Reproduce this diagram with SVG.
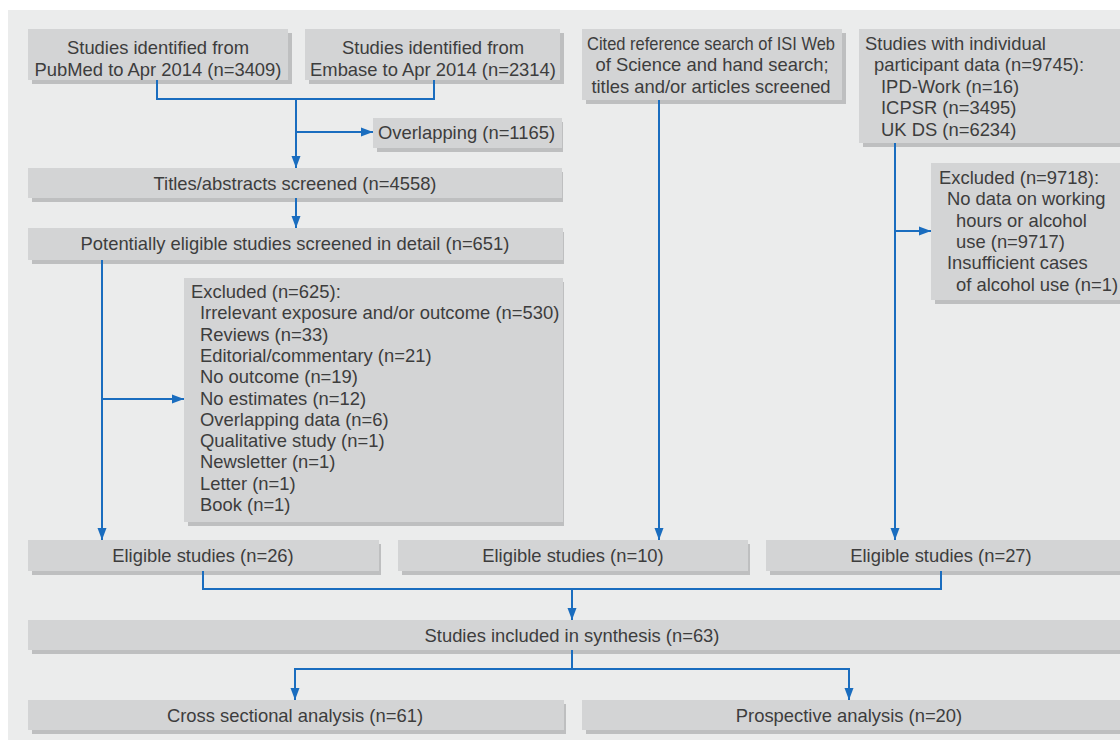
<svg xmlns="http://www.w3.org/2000/svg" width="1120" height="742" viewBox="0 0 1120 742">
<defs>
<style>
.sh{fill:#bebfc0}
.bx{fill:#d3d4d5}
text{font-family:"Liberation Sans",Arial,sans-serif;font-size:18.4px;fill:#3d3d3d}
.c{text-anchor:middle}
.ln{fill:none;stroke:#1a6dbf;stroke-width:2}
</style>
<marker id="ah" markerUnits="userSpaceOnUse" markerWidth="13" markerHeight="10" refX="12" refY="5" orient="auto">
<path d="M0,0.5 L12,5 L0,9.5 Z" fill="#1a6dbf"/>
</marker>
</defs>
<rect width="1120" height="742" fill="#ffffff"/>
<rect x="8" y="10" width="1112" height="730" fill="#ebecec"/>

<g id="pubmed"><rect class="sh" x="32" y="33" width="260" height="51"/><rect class="bx" x="28" y="29" width="260" height="51"/>
<text class="c" x="158" y="53.5">Studies identified from</text><text class="c" x="158" y="75.5">PubMed to Apr 2014 (n=3409)</text></g>

<g id="embase"><rect class="sh" x="309" y="33" width="255" height="51"/><rect class="bx" x="305" y="29" width="255" height="51"/>
<text class="c" x="433" y="53.5">Studies identified from</text><text class="c" x="433" y="75.5">Embase to Apr 2014 (n=2314)</text></g>

<g id="cited"><rect class="sh" x="586" y="33" width="260" height="71"/><rect class="bx" x="582" y="29" width="260" height="71"/>
<text class="c" x="711" y="49.5" textLength="248" lengthAdjust="spacingAndGlyphs">Cited reference search of ISI Web</text><text class="c" x="712" y="70.5">of Science and hand search;</text><text class="c" x="711" y="92.5">titles and/or articles screened</text></g>

<g id="ipd"><rect class="sh" x="863" y="33" width="261" height="114"/><rect class="bx" x="859" y="29" width="261" height="114"/>
<text x="865" y="49.5">Studies with individual</text><text x="874" y="70.5">participant data (n=9745):</text><text x="881" y="92.5">IPD-Work (n=16)</text><text x="881" y="113.5">ICPSR (n=3495)</text><text x="881" y="135.5">UK DS (n=6234)</text></g>

<g id="overlapping"><rect class="sh" x="377" y="122" width="186" height="30"/><rect class="bx" x="373" y="118" width="189" height="30"/>
<text x="378" y="139">Overlapping (n=1165)</text></g>

<g id="titles"><rect class="sh" x="32" y="172" width="531" height="30"/><rect class="bx" x="28" y="168" width="534" height="30"/>
<text class="c" x="295" y="189.5">Titles/abstracts screened (n=4558)</text></g>

<g id="potentially"><rect class="sh" x="32" y="232" width="532" height="32"/><rect class="bx" x="28" y="228" width="535" height="32"/>
<text class="c" x="295" y="250">Potentially eligible studies screened in detail (n=651)</text></g>

<g id="excluded625"><rect class="sh" x="188" y="282" width="376" height="244"/><rect class="bx" x="184" y="278" width="379" height="244"/>
<text x="191" y="298">Excluded (n=625):</text>
<text x="200" y="319.3">Irrelevant exposure and/or outcome (n=530)</text>
<text x="200" y="340.6">Reviews (n=33)</text>
<text x="200" y="361.9">Editorial/commentary (n=21)</text>
<text x="200" y="383.2">No outcome (n=19)</text>
<text x="200" y="404.5">No estimates (n=12)</text>
<text x="200" y="425.8">Overlapping data (n=6)</text>
<text x="200" y="447.1">Qualitative study (n=1)</text>
<text x="200" y="468.4">Newsletter (n=1)</text>
<text x="200" y="489.7">Letter (n=1)</text>
<text x="200" y="511">Book (n=1)</text></g>

<g id="excluded9718"><rect class="sh" x="935" y="167" width="189" height="137"/><rect class="bx" x="931" y="163" width="189" height="137"/>
<text x="939" y="183.5">Excluded (n=9718):</text>
<text x="947" y="204.5">No data on working</text>
<text x="956" y="226.5">hours or alcohol</text>
<text x="956" y="247.5">use (n=9717)</text>
<text x="947" y="268.5">Insufficient cases</text>
<text x="956" y="290.5">of alcohol use (n=1)</text></g>

<g id="eligible1"><rect class="sh" x="32" y="544" width="349" height="31"/><rect class="bx" x="28" y="540" width="351" height="31"/>
<text class="c" x="203" y="562">Eligible studies (n=26)</text></g>
<g id="eligible2"><rect class="sh" x="402" y="544" width="348" height="31"/><rect class="bx" x="398" y="540" width="350" height="31"/>
<text class="c" x="573" y="562">Eligible studies (n=10)</text></g>
<g id="eligible3"><rect class="sh" x="770" y="544" width="354" height="31"/><rect class="bx" x="766" y="540" width="354" height="31"/>
<text class="c" x="941" y="562">Eligible studies (n=27)</text></g>

<g id="synthesis"><rect class="sh" x="32" y="624" width="1092" height="30"/><rect class="bx" x="28" y="620" width="1092" height="30"/>
<text class="c" x="572" y="641.5">Studies included in synthesis (n=63)</text></g>

<g id="cross"><rect class="sh" x="32" y="704" width="534" height="30"/><rect class="bx" x="28" y="700" width="536" height="30"/>
<text class="c" x="295" y="721.5">Cross sectional analysis (n=61)</text></g>
<g id="prospective"><rect class="sh" x="586" y="704" width="538" height="30"/><rect class="bx" x="582" y="700" width="538" height="30"/>
<text class="c" x="849" y="721.5">Prospective analysis (n=20)</text></g>

<g id="connectors">
<path class="ln" d="M157,80 V99 H434 V80"/>
<path class="ln" d="M296,99 V168" marker-end="url(#ah)"/>
<path class="ln" d="M296,132 H373" marker-end="url(#ah)"/>
<path class="ln" d="M296,198 V228" marker-end="url(#ah)"/>
<path class="ln" d="M102,260 V540" marker-end="url(#ah)"/>
<path class="ln" d="M102,399 H184" marker-end="url(#ah)"/>
<path class="ln" d="M659,100 V540" marker-end="url(#ah)"/>
<path class="ln" d="M895,143 V540" marker-end="url(#ah)"/>
<path class="ln" d="M895,231 H931" marker-end="url(#ah)"/>
<path class="ln" d="M203,571 V589 H941 V571"/>
<path class="ln" d="M572,589 V620" marker-end="url(#ah)"/>
<path class="ln" d="M572,650 V669"/>
<path class="ln" d="M295,700 V669 H849 V700"/>
<path class="ln" d="M295,690 V700" marker-end="url(#ah)"/>
<path class="ln" d="M849,690 V700" marker-end="url(#ah)"/>
</g>
</svg>
